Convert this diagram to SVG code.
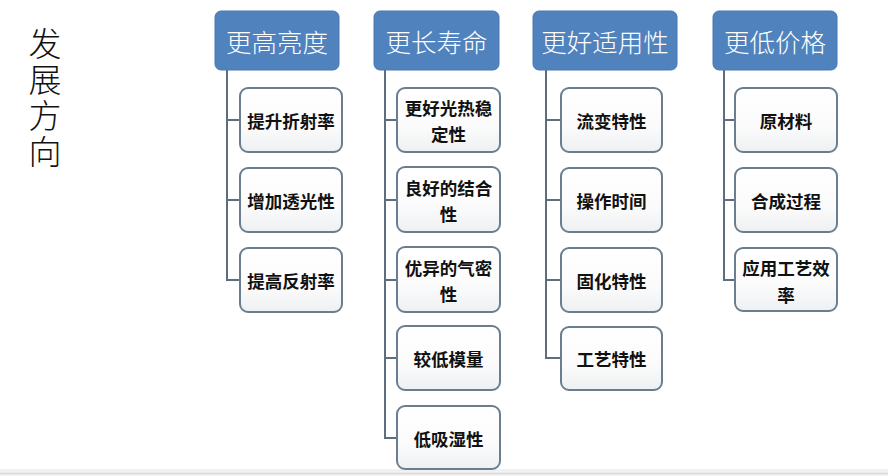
<svg xmlns="http://www.w3.org/2000/svg" width="888" height="476" viewBox="0 0 888 476">
<defs>
<linearGradient id="cg" x1="0" y1="0" x2="0" y2="1">
<stop offset="0" stop-color="#ffffff"/>
<stop offset="0.6" stop-color="#fbfbfb"/>
<stop offset="1" stop-color="#eef0f2"/>
</linearGradient>
</defs>
<style>
.hd{fill:#5082be;stroke:#4a79b0;stroke-width:1}
.ht{fill:#ffffff;font-family:"Noto Sans CJK SC","Noto Sans",sans-serif;font-size:25.5px;font-weight:300;text-anchor:middle;dominant-baseline:central}
.cb{fill:url(#cg);stroke:#6b7e8f;stroke-width:2}
.ct{fill:#111111;font-family:"Noto Sans CJK SC","Noto Sans",sans-serif;font-size:17.5px;font-weight:bold;text-anchor:middle;dominant-baseline:central}
.ln{fill:none;stroke:#5e6e7e;stroke-width:2}
.tt{fill:#111111;font-family:"Noto Sans CJK SC","Noto Sans",sans-serif;font-size:33px;font-weight:300;writing-mode:vertical-rl;letter-spacing:3px}
</style>
<rect width="888" height="476" fill="#ffffff"/>
<rect x="0" y="469" width="888" height="7" fill="#f1f1f1"/>
<line x1="0" y1="473.5" x2="888" y2="473.5" stroke="#d9d9d9" stroke-width="1.5"/>

<g id="title">
<text class="tt" x="45" y="27">发展方向</text>
</g>

<g id="connectors">
<path class="ln" d="M227,70 V280 H240 M227,120 H240 M227,200 H240"/>
<path class="ln" d="M385,70 V438 H397 M385,120 H397 M385,200 H397 M385,280 H397 M385,358 H397"/>
<path class="ln" d="M546,70 V358 H561 M546,120 H561 M546,200 H561 M546,280 H561"/>
<path class="ln" d="M724,70 V280 H735 M724,120 H735 M724,200 H735"/>
</g>

<g id="h1"><rect class="hd" x="215" y="11" width="124" height="59" rx="6"/><text class="ht" x="277" y="40">更高亮度</text></g>
<g id="h2"><rect class="hd" x="374" y="11" width="125" height="59" rx="6"/><text class="ht" x="436.5" y="40">更长寿命</text></g>
<g id="h3"><rect class="hd" x="533" y="11" width="144" height="59" rx="6"/><text class="ht" x="605" y="40">更好适用性</text></g>
<g id="h4"><rect class="hd" x="713" y="11" width="124" height="59" rx="6"/><text class="ht" x="775" y="40">更低价格</text></g>

<g id="c1a"><rect class="cb" x="240" y="88" width="102" height="64" rx="8"/><text class="ct" x="291" y="120">提升折射率</text></g>
<g id="c1b"><rect class="cb" x="240" y="168" width="102" height="64" rx="8"/><text class="ct" x="291" y="200">增加透光性</text></g>
<g id="c1c"><rect class="cb" x="240" y="248" width="102" height="64" rx="8"/><text class="ct" x="291" y="280">提高反射率</text></g>

<g id="c2a"><rect class="cb" x="397" y="88" width="103" height="64" rx="8"/><text class="ct" x="448.5" y="107">更好光热稳</text><text class="ct" x="448.5" y="133">定性</text></g>
<g id="c2b"><rect class="cb" x="397" y="167" width="103" height="65" rx="8"/><text class="ct" x="448.5" y="187">良好的结合</text><text class="ct" x="448.5" y="213">性</text></g>
<g id="c2c"><rect class="cb" x="397" y="247" width="103" height="65" rx="8"/><text class="ct" x="448.5" y="267">优异的气密</text><text class="ct" x="448.5" y="293">性</text></g>
<g id="c2d"><rect class="cb" x="397" y="326" width="103" height="64" rx="8"/><text class="ct" x="448.5" y="358">较低模量</text></g>
<g id="c2e"><rect class="cb" x="397" y="406" width="103" height="63" rx="8"/><text class="ct" x="448.5" y="438">低吸湿性</text></g>

<g id="c3a"><rect class="cb" x="561" y="88" width="101" height="64" rx="8"/><text class="ct" x="611.5" y="120">流变特性</text></g>
<g id="c3b"><rect class="cb" x="561" y="168" width="101" height="64" rx="8"/><text class="ct" x="611.5" y="200">操作时间</text></g>
<g id="c3c"><rect class="cb" x="561" y="248" width="101" height="64" rx="8"/><text class="ct" x="611.5" y="280">固化特性</text></g>
<g id="c3d"><rect class="cb" x="561" y="327" width="101" height="63" rx="8"/><text class="ct" x="611.5" y="358">工艺特性</text></g>

<g id="c4a"><rect class="cb" x="735" y="88" width="102" height="64" rx="8"/><text class="ct" x="786" y="120">原材料</text></g>
<g id="c4b"><rect class="cb" x="735" y="168" width="102" height="64" rx="8"/><text class="ct" x="786" y="200">合成过程</text></g>
<g id="c4c"><rect class="cb" x="735" y="248" width="102" height="63" rx="8"/><text class="ct" x="786" y="267">应用工艺效</text><text class="ct" x="786" y="294">率</text></g>
</svg>
